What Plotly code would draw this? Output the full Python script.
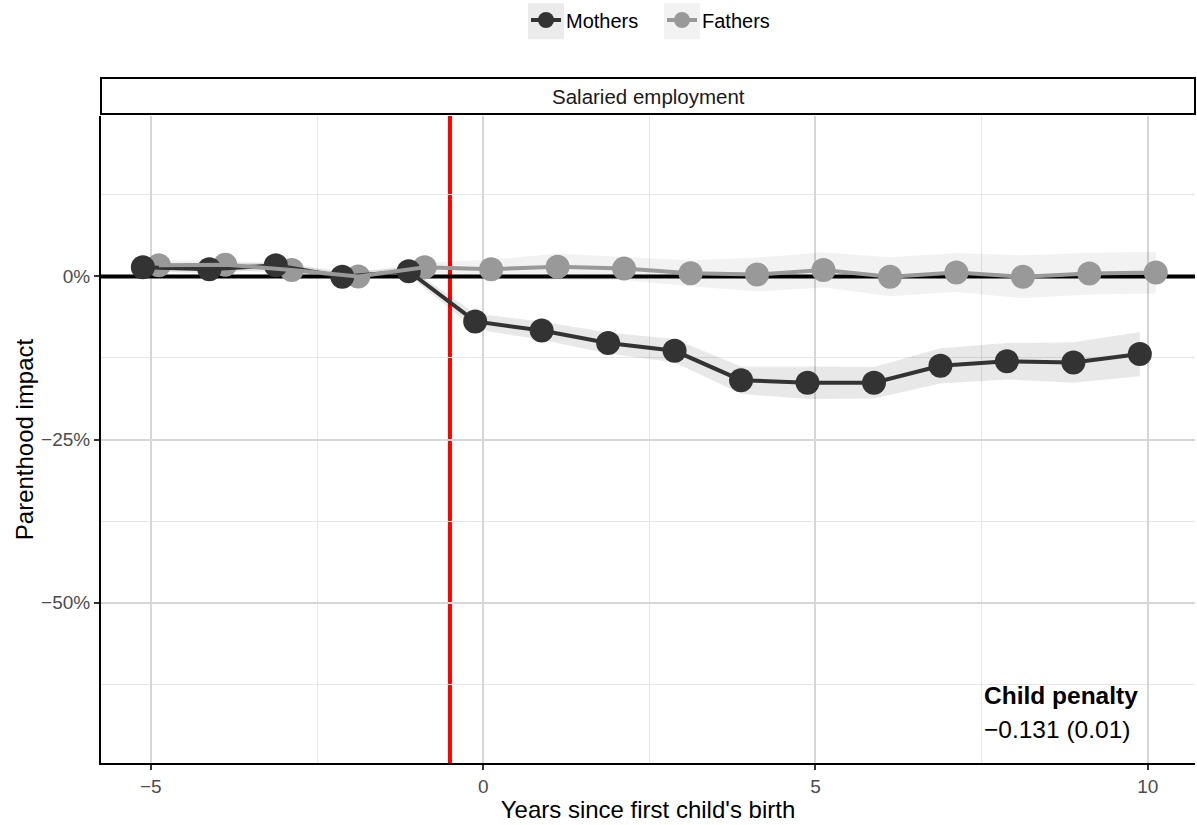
import plotly.graph_objects as go

# ---- data (percent) ----
years = list(range(-5, 11))
mothers = [1.4, 1.1, 1.7, -0.05, 0.8, -6.9, -8.3, -10.2, -11.4, -15.9, -16.3, -16.3, -13.7, -13.0, -13.2, -11.9]
fathers = [1.7, 1.8, 1.0, 0.0, 1.4, 1.1, 1.5, 1.2, 0.5, 0.3, 1.0, -0.05, 0.6, -0.05, 0.45, 0.6]
mothers_ci = [0.6, 0.6, 0.6, 0.6, 0.6, 1.2, 1.4, 1.6, 1.8, 2.1, 2.5, 2.4, 2.7, 2.8, 3.1, 3.4]
fathers_ci = [0.7, 0.7, 0.7, 0.7, 0.7, 1.5, 2.0, 1.8, 2.0, 2.6, 2.7, 3.0, 3.0, 3.3, 3.2, 3.2]
y_tickvals = [0, -25, -50]
y_ticktext = ["0%", "\u221225%", "\u221250%"]
x_tickvals = [-5, 0, 5, 10]
x_ticktext = ["\u22125", "0", "5", "10"]
event_line = -0.5
zero_level = 0
penalty_title = "Child penalty"
penalty_value = "\u22120.131 (0.01)"
facet_label = "Salaried employment"

DODGE = 0.12
X_RANGE = [-5.75, 10.71]
Y_RANGE = [-74.6, 24.6]
MOTHER_COL = "#333333"
FATHER_COL = "#999999"
FONT = "Liberation Sans, Arial, Helvetica, sans-serif"

xm = [y - DODGE for y in years]
xf = [y + DODGE for y in years]

fig = go.Figure()

def ribbon(x, y, ci, color):
    upper = [a + c for a, c in zip(y, ci)]
    lower = [a - c for a, c in zip(y, ci)]
    return go.Scatter(x=x + x[::-1], y=upper + lower[::-1], fill="toself",
                      fillcolor=color, line=dict(width=0), mode="lines",
                      hoverinfo="skip", showlegend=False)

fig.add_trace(ribbon(xf, fathers, fathers_ci, "rgba(0,0,0,0.05)"))
fig.add_trace(ribbon(xm, mothers, mothers_ci, "rgba(0,0,0,0.09)"))

# zero reference line across the panel
fig.add_trace(go.Scatter(x=X_RANGE, y=[zero_level, zero_level], mode="lines",
                         line=dict(color="black", width=4), hoverinfo="skip",
                         showlegend=False, cliponaxis=True))

# points
fig.add_trace(go.Scatter(x=xf, y=fathers, mode="markers",
                         marker=dict(size=24, color=FATHER_COL), showlegend=False))
fig.add_trace(go.Scatter(x=xm, y=mothers, mode="markers",
                         marker=dict(size=24, color=MOTHER_COL), showlegend=False))
# lines
fig.add_trace(go.Scatter(x=xm, y=mothers, mode="lines",
                         line=dict(color=MOTHER_COL, width=4), showlegend=False))
fig.add_trace(go.Scatter(x=xf, y=fathers, mode="lines",
                         line=dict(color=FATHER_COL, width=4), showlegend=False))

# legend entries
fig.add_trace(go.Scatter(x=[None], y=[None], mode="lines+markers", name="Mothers",
                         marker=dict(size=24, color=MOTHER_COL),
                         line=dict(color=MOTHER_COL, width=4)))
fig.add_trace(go.Scatter(x=[None], y=[None], mode="lines+markers", name="Fathers",
                         marker=dict(size=24, color=FATHER_COL),
                         line=dict(color=FATHER_COL, width=4)))

# legend key backgrounds (paper coordinates)
P0, PW = 101, 1094
def px(v):
    return (v - P0) / PW
fig.add_shape(type="rect", xref="paper", yref="paper", x0=px(528), x1=px(564),
              y0=1.1188, y1=1.1744, line=dict(width=0), fillcolor="#ebebeb", layer="below")
fig.add_shape(type="rect", xref="paper", yref="paper", x0=px(664), x1=px(700),
              y0=1.1188, y1=1.1744, line=dict(width=0), fillcolor="#f2f2f2", layer="below")

# event line
fig.add_shape(type="line", xref="x", x0=event_line, x1=event_line, yref="paper", y0=0, y1=1,
              line=dict(color="#ff0000", width=4), layer="between")

# facet strip
fig.add_shape(type="rect", xref="paper", yref="paper", x0=0, x1=1,
              y0=1.0031, y1=1.0586, line=dict(color="black", width=2),
              fillcolor="white", layer="above")
fig.add_annotation(xref="paper", yref="paper", x=0.5, y=1.0309, text=facet_label,
                   showarrow=False, font=dict(size=20.5, color="#1a1a1a", family=FONT),
                   xanchor="center", yanchor="middle")

# penalty annotation
fig.add_annotation(xref="x", yref="y", x=7.5, y=-64.2, text="<b>" + penalty_title + "</b>",
                   showarrow=False, xanchor="left", yanchor="middle",
                   font=dict(size=24.5, color="black", family=FONT))
fig.add_annotation(xref="x", yref="y", x=7.5, y=-69.4, text=penalty_value,
                   showarrow=False, xanchor="left", yanchor="middle",
                   font=dict(size=24.5, color="black", family=FONT))

fig.update_layout(
    width=1197, height=825,
    margin=dict(l=101, r=2, t=115, b=62),
    paper_bgcolor="white", plot_bgcolor="white",
    font=dict(family=FONT),
    legend=dict(orientation="h", x=0.5128, xanchor="center", y=1.1466, yanchor="middle",
                font=dict(size=20, color="black", family=FONT), bgcolor="rgba(0,0,0,0)",
                traceorder="normal", entrywidth=91, entrywidthmode="pixels"),
    xaxis=dict(range=X_RANGE, tickvals=x_tickvals, ticktext=x_ticktext,
               showgrid=True, gridcolor="#d6d6d6", gridwidth=1.6,
               minor=dict(tickvals=[-2.5, 2.5, 7.5], showgrid=True, gridcolor="#e6e6e6", gridwidth=0.8),
               showline=True, linecolor="black", linewidth=2,
               ticks="outside", ticklen=5, tickwidth=1.5, tickcolor="#333333",
               tickfont=dict(size=19, color="#4d4d4d", family=FONT),
               zeroline=False,
               title=dict(text="Years since first child's birth", standoff=5,
                          font=dict(size=24, color="black", family=FONT))),
    yaxis=dict(range=Y_RANGE, tickvals=y_tickvals, ticktext=y_ticktext,
               showgrid=True, gridcolor="#d6d6d6", gridwidth=1.6,
               minor=dict(tickvals=[12.5, -12.5, -37.5, -62.5], showgrid=True,
                          gridcolor="#e6e6e6", gridwidth=0.8),
               showline=True, linecolor="black", linewidth=2,
               ticks="outside", ticklen=5, tickwidth=1.5, tickcolor="#333333",
               tickfont=dict(size=19, color="#4d4d4d", family=FONT),
               zeroline=False,
               title=dict(text="Parenthood impact", standoff=1,
                          font=dict(size=24, color="black", family=FONT))),
)

fig.write_html("out.html", config={"displayModeBar": False},
               post_script="document.body.style.margin='0';document.body.style.padding='0';")
